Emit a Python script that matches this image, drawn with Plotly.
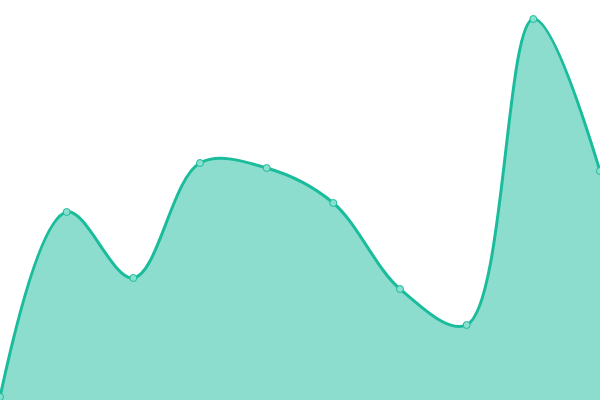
import plotly.graph_objects as go

x_vals = [0, 1, 2, 3, 4, 5, 6, 7, 8, 9]
y_vals = [3, 188, 122, 237, 232, 197, 111, 75, 381, 229]

fig = go.Figure()
fig.add_trace(
    go.Scatter(
        x=x_vals,
        y=y_vals,
        mode="lines+markers",
        fill="tozeroy",
        fillcolor="rgba(26,188,156,0.5)",
        line=dict(color="#1abc9c", width=3, shape="spline", smoothing=1),
        marker=dict(size=7, color="#8ae0cf", line=dict(color="#1abc9c", width=1)),
        hoverinfo="skip",
    )
)
fig.update_layout(
    width=600,
    height=400,
    margin=dict(l=0, r=0, t=0, b=0),
    paper_bgcolor="white",
    plot_bgcolor="white",
    showlegend=False,
)
fig.update_xaxes(visible=False, range=[0, 9])
fig.update_yaxes(visible=False, range=[0, 400])
# drop the default 8px body margin so the chart fills the window
fig.write_html(
    "out.html",
    config={"displayModeBar": False, "staticPlot": True},
    post_script="document.body.style.margin='0';",
)
